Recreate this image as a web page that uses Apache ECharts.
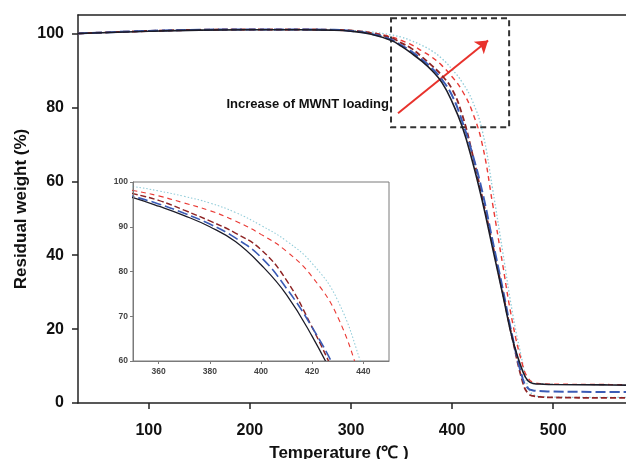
<!DOCTYPE html>
<html lang="en" style="height: 100%">
<head>
  <meta charset="utf-8">
  <script type="text/javascript" src="https://cdn.jsdelivr.net/npm/echarts@6/dist/echarts.min.js"></script>
</head>
<body style="height: 100%; margin: 0; background: #fff">
  <div id="tga" style="height: 459px; width: 626px"></div>

  <script type="text/javascript">
  // temperature (C) and residual weight (%)
  var temps  = [30, 100, 150, 200, 250, 280, 300, 320, 340, 350, 360, 370, 380, 390, 400, 410, 420, 430, 440, 450, 460, 470, 475, 480, 490, 500, 550, 580];
  var neat   = [100.0, 100.6, 100.9, 101.0, 101.0, 100.9, 100.6, 99.8, 98.1, 96.5, 94.6, 92.5, 90.0, 86.7, 81.5, 74.8, 65.5, 54.5, 42.0, 29.5, 17.0, 8.5, 6.0, 5.3, 5.1, 5.0, 4.9, 4.8];
  var mwnt1  = [100.0, 100.7, 101.0, 101.1, 101.1, 101.0, 100.7, 99.9, 98.3, 96.8, 95.1, 93.0, 90.6, 87.5, 83.2, 76.2, 67.5, 57.0, 44.0, 31.0, 17.5, 6.5, 4.0, 3.4, 3.2, 3.1, 3.0, 3.0];
  var mwnt2  = [100.0, 100.7, 101.0, 101.1, 101.1, 101.0, 100.8, 100.1, 98.8, 97.4, 95.9, 93.7, 91.3, 88.6, 84.9, 78.0, 67.5, 55.5, 43.0, 30.0, 17.0, 5.5, 2.6, 1.9, 1.6, 1.5, 1.4, 1.4];
  var mwnt3  = [100.0, 100.6, 100.9, 101.0, 101.0, 100.9, 100.7, 100.2, 99.1, 98.1, 96.9, 95.3, 93.6, 91.3, 88.3, 84.5, 78.8, 69.8, 54.0, 37.5, 21.5, 10.0, 6.8, 5.6, 5.2, 5.1, 5.0, 4.9];
  var mwnt4  = [100.0, 100.6, 100.9, 101.0, 101.0, 100.9, 100.8, 100.4, 99.6, 99.0, 98.0, 96.8, 95.3, 93.2, 90.3, 86.8, 81.8, 73.5, 58.0, 41.0, 24.0, 10.5, 4.5, 2.3, 1.7, 1.6, 1.5, 1.5];

  var names  = ['neat', 'MWNT 1', 'MWNT 2', 'MWNT 3', 'MWNT 4'];
  var curves = [mwnt4, mwnt3, mwnt2, mwnt1, neat];
  var curveNames = [names[4], names[3], names[2], names[1], names[0]];

  var looks = [
    {color: '#8fcbd8', type: [1.5, 2], width: 1.3},
    {color: '#ea3b36', type: [5, 4], width: 1.4},
    {color: '#8e2424', type: [6, 3], width: 1.8},
    {color: '#3a5bb5', type: [10, 4], width: 2},
    {color: '#1c1c28', type: 'solid', width: 1.6}
  ];

  var chart = echarts.init(document.getElementById('tga'));
  var font = 'Liberation Sans';

  var series = [];
  for (var i = 0; i < curves.length; i++) {
    var pts = [];
    for (var j = 0; j < temps.length; j++) pts.push([temps[j], curves[i][j]]);
    series.push({
      name: curveNames[i], type: 'line', xAxisIndex: 0, yAxisIndex: 0,
      data: pts, showSymbol: false, smooth: 0.45,
      lineStyle: {color: looks[i].color, type: looks[i].type, width: looks[i].width},
      z: 3 + i
    });
    series.push({
      name: curveNames[i], type: 'line', xAxisIndex: 2, yAxisIndex: 1,
      data: pts, showSymbol: false, smooth: 0.45,
      lineStyle: {color: looks[i].color, type: looks[i].type, width: looks[i].width * 0.8},
      z: 3 + i
    });
  }

  // dashed box and arrow annotation
  series[0].markArea = {
    silent: true,
    itemStyle: {color: 'rgba(0,0,0,0)', borderColor: '#333', borderWidth: 2, borderType: [6, 4]},
    data: [[{coord: [339.6, 104.1]}, {coord: [456.4, 74.6]}]]
  };
  series[0].markLine = {
    silent: true, symbol: ['none', 'arrow'], symbolSize: 12,
    label: {show: false},
    lineStyle: {color: '#e8322c', width: 2, type: 'solid'},
    data: [[{coord: [346.5, 78.4]}, {coord: [435.6, 98.1]}]]
  };

  var option = {
    animation: false,
    backgroundColor: '#fff',
    grid: [
      {left: 78, top: 15, right: 0, bottom: 56, outerBoundsMode: 'none'},
      {left: 133, top: 182, width: 256, height: 179, show: true, backgroundColor: '#fff',
       borderColor: '#7a7a7a', borderWidth: 1, outerBoundsMode: 'none'}
    ],
    xAxis: [
      {
        type: 'value', gridIndex: 0, min: 30, max: 572, splitNumber: 5,
        name: 'Temperature (\u2103 )', nameLocation: 'middle', nameGap: 42, nameMoveOverlap: false,
        nameTextStyle: {fontFamily: font, fontWeight: 'bold', fontSize: 17, color: '#111', padding: [0, 26, 0, 0]},
        axisLine: {lineStyle: {color: '#222', width: 1.5}},
        axisTick: {length: 6, lineStyle: {color: '#222', width: 1.5}},
        axisLabel: {fontFamily: font, fontWeight: 'bold', fontSize: 16, color: '#111', margin: 20,
          showMinLabel: false, showMaxLabel: false,
          formatter: function (v) { return v % 100 === 0 ? String(v) : ''; }},
        splitLine: {show: false}
      },
      {
        type: 'value', gridIndex: 0, position: 'top', min: 30, max: 572,
        axisLine: {lineStyle: {color: '#222', width: 1.5}},
        axisTick: {show: false}, axisLabel: {show: false}, splitLine: {show: false}
      },
      {
        type: 'value', gridIndex: 1, min: 350, max: 450, splitNumber: 5,
        axisLine: {lineStyle: {color: '#7a7a7a', width: 1}},
        axisTick: {length: 3, lineStyle: {color: '#7a7a7a'}},
        axisLabel: {fontFamily: font, fontWeight: 'bold', fontSize: 8.5, color: '#444', margin: 6,
          showMinLabel: false, showMaxLabel: false},
        splitLine: {show: false}, z: 10
      }
    ],
    yAxis: [
      {
        type: 'value', gridIndex: 0, min: 0, max: 105, interval: 20,
        name: 'Residual weight (%)', nameLocation: 'middle', nameGap: 48, nameMoveOverlap: false,
        nameTextStyle: {fontFamily: font, fontWeight: 'bold', fontSize: 17, color: '#111'},
        axisLine: {lineStyle: {color: '#222', width: 1.5}},
        axisTick: {length: 6, lineStyle: {color: '#222', width: 1.5}},
        axisLabel: {fontFamily: font, fontWeight: 'bold', fontSize: 16, color: '#111', margin: 14,
          showMaxLabel: false,
          formatter: function (v) { return v % 20 === 0 ? String(v) : ''; }},
        splitLine: {show: false}
      },
      {
        type: 'value', gridIndex: 1, min: 60, max: 100, interval: 10,
        axisLine: {lineStyle: {color: '#7a7a7a', width: 1}},
        axisTick: {length: 3, lineStyle: {color: '#7a7a7a'}},
        axisLabel: {fontFamily: font, fontWeight: 'bold', fontSize: 8.5, color: '#444', margin: 5},
        splitLine: {show: false}, z: 10
      }
    ],
    graphic: [{
      type: 'text', x: 389, y: 104, z: 20,
      style: {text: 'Increase of MWNT loading', font: 'bold 13px "Liberation Sans"', fill: '#111',
        textAlign: 'right', textVerticalAlign: 'middle'}
    }],
    series: series
  };

  chart.setOption(option);
  </script>
</body>
</html>
